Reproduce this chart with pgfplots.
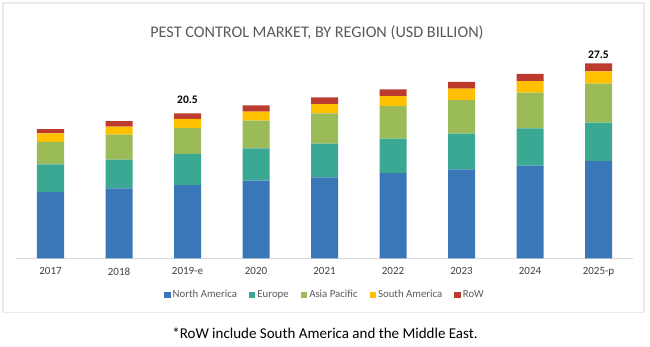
\documentclass[border=0pt]{standalone}
\usepackage{pgfplots}
\pgfplotsset{compat=1.18}
\usepackage{fontspec}
\setmainfont{Carlito}
\definecolor{cNA}{HTML}{3A77B8}
\definecolor{cEU}{HTML}{3AA892}
\definecolor{cAP}{HTML}{9BBB59}
\definecolor{cSA}{HTML}{FFC000}
\definecolor{cRW}{HTML}{BC3A2E}
\definecolor{tgray}{HTML}{595959}
\definecolor{tick}{HTML}{404040}
\begin{document}
\begin{tikzpicture}[x=1pt,y=1pt]
\path[use as bounding box] (0,0) rectangle (650,346);
\draw[draw=black!8, line width=1.5pt] (3,33.3) rectangle (644,343);
\node[font=\fontsize{16.2}{18}\selectfont, text=tgray] at (317,313) {PEST CONTROL MARKET, BY REGION (USD BILLION)};
\node[font=\fontsize{15}{17}\selectfont, text=black] at (325,13) {*RoW include South America and the Middle East.};
\begin{axis}[
  at={(16.25pt,87.7pt)}, anchor=south west,
  scale only axis, width=616.5pt, height=198.2pt,
  xmin=-0.5, xmax=8.5, ymin=0, ymax=28,
  ybar stacked, bar width=27pt,
  axis y line=none, axis x line*=bottom,
  x axis line style={-, draw=black!15, line width=0.8pt},
  xtick={0,...,8},
  xticklabels={2017,2018,2019-e,2020,2021,2022,2023,2024,2025-p},
  major tick length=0pt,
  xticklabel style={font=\fontsize{11}{13}\selectfont, text=tick, yshift=-6pt},
  clip=false,
  legend columns=5,
  legend style={at={(0.5008,-0.185)}, anchor=center, draw=none, fill=none,
    font=\fontsize{10.8}{12}\selectfont, text=tgray,
    /tikz/every even column/.append style={column sep=10pt}},
  legend image code/.code={\fill[#1] (0pt,-3.2pt) rectangle (6.5pt,3.3pt);},
]
\addplot[fill=cNA, draw=none] coordinates {(0,9.36) (1,9.89) (2,10.35) (3,10.96) (4,11.44) (5,12.05) (6,12.57) (7,13.08) (8,13.74)};
\addlegendentry{North America}
\addplot[fill=cEU, draw=none] coordinates {(0,3.91) (1,4.04) (2,4.42) (3,4.58) (4,4.75) (5,4.84) (6,5.03) (7,5.28) (8,5.41)};
\addlegendentry{Europe}
\addplot[fill=cAP, draw=none] coordinates {(0,3.19) (1,3.53) (2,3.67) (3,3.90) (4,4.29) (5,4.62) (6,4.76) (7,5.03) (8,5.51)};
\addlegendentry{Asia Pacific}
\addplot[fill=cSA, draw=none] coordinates {(0,1.19) (1,1.13) (2,1.27) (3,1.27) (4,1.31) (5,1.41) (6,1.60) (7,1.65) (8,1.75)};
\addlegendentry{South America}
\addplot[fill=cRW, draw=none] coordinates {(0,0.61) (1,0.80) (2,0.76) (3,0.90) (4,0.95) (5,0.95) (6,0.95) (7,1.03) (8,1.13)};
\addlegendentry{RoW}
\node[font=\bfseries\fontsize{11.5}{13}\selectfont] at (axis cs:2,22.36) {20.5};
\node[font=\bfseries\fontsize{11.5}{13}\selectfont] at (axis cs:8,28.7) {27.5};
\end{axis}
\end{tikzpicture}
\end{document}
